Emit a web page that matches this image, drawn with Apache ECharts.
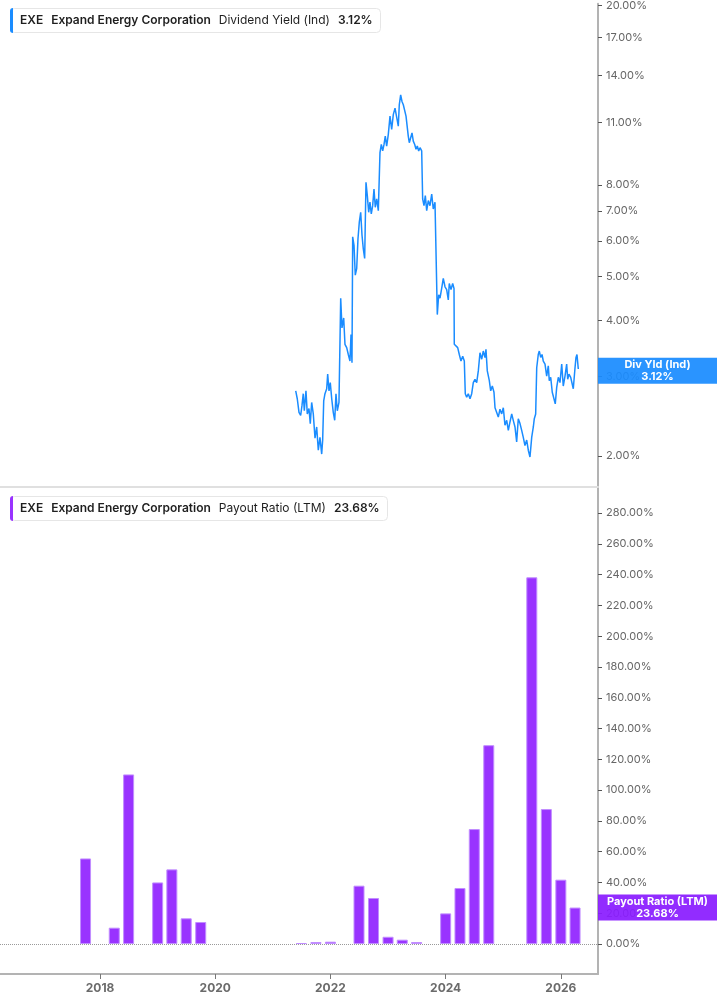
<!DOCTYPE html>
<html>
<head>
<meta charset="utf-8">
<title>EXE - Dividend Yield / Payout Ratio</title>
<script src="https://cdn.jsdelivr.net/npm/echarts@6.0.0/dist/echarts.min.js"></script>
<style>
  html, body { margin: 0; padding: 0; background: #fff; }
  #main { width: 717px; height: 1005px; }
</style>
</head>
<body>
<div id="main"></div>
<script>
// Dividend Yield (Ind), in %. Dates are decimal years.
const yieldYears = [
  2021.397, 2021.424, 2021.454, 2021.483, 2021.506, 2021.528, 2021.546, 2021.575, 2021.598, 2021.627,
  2021.650, 2021.674, 2021.702, 2021.732, 2021.761, 2021.789, 2021.818, 2021.848, 2021.865, 2021.883,
  2021.905, 2021.935, 2021.952, 2021.975, 2021.997, 2022.022, 2022.049, 2022.074, 2022.096, 2022.119,
  2022.148, 2022.166, 2022.178, 2022.200, 2022.230, 2022.252, 2022.282, 2022.310, 2022.339, 2022.357,
  2022.374, 2022.386, 2022.409, 2022.431, 2022.456, 2022.478, 2022.501, 2022.525, 2022.548, 2022.570,
  2022.594, 2022.617, 2022.640, 2022.664, 2022.686, 2022.709, 2022.733, 2022.756, 2022.778, 2022.803,
  2022.831, 2022.848, 2022.860, 2022.883, 2022.907, 2022.930, 2022.952, 2022.976, 2023.004, 2023.034,
  2023.063, 2023.091, 2023.121, 2023.150, 2023.178, 2023.195, 2023.219, 2023.242, 2023.265, 2023.289,
  2023.312, 2023.334, 2023.351, 2023.369, 2023.393, 2023.416, 2023.438, 2023.463, 2023.485, 2023.508,
  2023.532, 2023.555, 2023.584, 2023.601, 2023.624, 2023.647, 2023.671, 2023.699, 2023.728, 2023.758,
  2023.785, 2023.815, 2023.844, 2023.855, 2023.879, 2023.902, 2023.931, 2023.959, 2023.989, 2024.018,
  2024.046, 2024.063, 2024.093, 2024.122, 2024.145, 2024.150, 2024.180, 2024.209, 2024.237, 2024.266,
  2024.296, 2024.324, 2024.341, 2024.365, 2024.393, 2024.423, 2024.452, 2024.480, 2024.509, 2024.539,
  2024.567, 2024.596, 2024.626, 2024.653, 2024.683, 2024.700, 2024.723, 2024.758, 2024.782, 2024.810,
  2024.839, 2024.857, 2024.886, 2024.914, 2024.943, 2024.973, 2025.001, 2025.030, 2025.060, 2025.088,
  2025.117, 2025.147, 2025.174, 2025.204, 2025.233, 2025.261, 2025.291, 2025.320, 2025.348, 2025.377,
  2025.407, 2025.435, 2025.464, 2025.494, 2025.522, 2025.539, 2025.563, 2025.581, 2025.608, 2025.626,
  2025.650, 2025.673, 2025.695, 2025.725, 2025.754, 2025.782, 2025.799, 2025.824, 2025.851, 2025.881,
  2025.903, 2025.928, 2025.956, 2025.985, 2026.015, 2026.042, 2026.072, 2026.101, 2026.119, 2026.141,
  2026.171, 2026.199, 2026.216, 2026.246, 2026.263, 2026.280, 2026.303
];
const yieldValues = [
  2.79, 2.68, 2.50, 2.46, 2.59, 2.75, 2.52, 2.79, 2.48, 2.55,
  2.36, 2.63, 2.48, 2.19, 2.32, 2.06, 2.20, 2.02, 2.17, 2.65,
  2.75, 2.82, 3.04, 2.79, 2.91, 2.68, 2.50, 2.40, 2.75, 2.52,
  2.63, 2.65, 4.48, 3.85, 4.05, 3.54, 3.48, 3.36, 3.25, 3.72,
  3.22, 6.13, 5.87, 5.04, 5.22, 6.07, 6.61, 6.95, 6.18, 5.77,
  5.49, 8.10, 7.57, 6.95, 7.32, 6.89, 7.19, 7.83, 7.13, 7.44,
  7.01, 7.07, 9.43, 9.83, 9.51, 9.83, 10.26, 9.75, 10.34, 11.36,
  10.61, 11.45, 11.84, 11.74, 10.79, 12.04, 12.67, 12.25, 12.04, 12.15,
  11.36, 11.45, 10.26, 9.92, 10.17, 10.43, 10.00, 9.83, 9.59, 9.75,
  9.51, 9.67, 9.51, 7.44, 7.19, 7.57, 7.01, 7.38, 7.19, 7.63,
  7.07, 7.32, 7.25, 4.12, 4.56, 4.48, 4.71, 4.96, 4.75, 4.68,
  4.44, 4.83, 4.68, 4.83, 4.71, 3.54, 3.57, 3.48, 3.36, 3.25,
  3.33, 3.25, 2.75, 2.70, 2.75, 2.68, 2.75, 2.91, 2.96, 2.91,
  3.09, 3.39, 3.28, 3.42, 3.31, 3.45, 3.09, 2.94, 2.79, 2.86,
  2.77, 2.56, 2.54, 2.44, 2.54, 2.48, 2.56, 2.34, 2.40, 2.28,
  2.38, 2.48, 2.40, 2.32, 2.15, 2.42, 2.36, 2.28, 2.20, 2.11,
  2.17, 2.06, 1.99, 2.20, 2.32, 2.42, 2.48, 3.14, 3.36, 3.42,
  3.31, 3.36, 3.25, 3.20, 3.01, 3.17, 2.94, 2.99, 2.77, 2.75,
  2.61, 2.84, 2.99, 2.91, 3.20, 2.86, 3.01, 3.20, 2.96, 3.04,
  2.99, 3.01, 2.82, 3.14, 3.31, 3.36, 3.12
];

// Payout Ratio (LTM), in %, one bar per quarter end
const payoutDates = [
  '2017-09-30', '2018-03-31', '2018-06-30', '2018-12-31', '2019-03-31', '2019-06-30', '2019-09-30',
  '2021-06-30', '2021-09-30', '2021-12-31', '2022-06-30', '2022-09-30', '2022-12-31', '2023-03-31',
  '2023-06-30', '2023-12-31', '2024-03-31', '2024-06-30', '2024-09-30', '2025-06-30', '2025-09-30',
  '2025-12-31', '2026-03-31'
];
const payoutValues = [
  55.6, 10.6, 110.2, 40.0, 48.5, 16.7, 14.3,
  0.6, 1.3, 1.5, 37.9, 29.9, 4.7, 2.8,
  1.3, 19.9, 36.4, 74.7, 129.2, 238.3, 87.7,
  41.8, 23.68
];

const yieldTicks = [2, 3, 4, 5, 6, 7, 8, 11, 14, 17, 20];
const payoutTicks = [0, 20, 40, 60, 80, 100, 120, 140, 160, 180, 200, 220, 240, 260, 280];
const yearTicks = [2018, 2020, 2022, 2024, 2026];

const FONT = 'Inter, "Noto Sans", sans-serif';
const BLUE = '#1a8cff';
const PURPLE = '#9933ff';

// '2019-06-30' -> 2019.49...
function dateToYear(s) {
  const [y, m, d] = s.split('-').map(Number);
  const start = Date.UTC(y, 0, 1);
  const end = Date.UTC(y + 1, 0, 1);
  return y + (Date.UTC(y, m - 1, d) + 864e5 - start) / (end - start);
}

const lastYield = yieldValues[yieldValues.length - 1];
const lastPayout = payoutValues[payoutValues.length - 1];

// the yield pane is log scaled: plot log10 on a value axis
const yieldData = yieldYears.map((y, i) => [y, Math.log10(yieldValues[i])]);
const payoutData = payoutDates.map((d, i) => [dateToYear(d), payoutValues[i]]);

const chart = echarts.init(document.getElementById('main'), null, { renderer: 'canvas' });

function legendTitle(top, color, label, value) {
  const base = { fontFamily: FONT, fontSize: 12, color: '#1f1f1f', lineHeight: 25 };
  return {
    left: 10,
    top: top,
    text: '{bar| }{b1|EXE}{b|Expand Energy Corporation}{n|' + label + '}{b|' + value + '}',
    backgroundColor: '#fff',
    borderColor: '#e6e6e6',
    borderWidth: 1,
    borderRadius: 4,
    padding: [0, 8, 0, 0],
    textStyle: {
      rich: {
        bar: { width: 3, height: 25, lineHeight: 25, backgroundColor: color, borderRadius: [4, 0, 0, 4] },
        b1: Object.assign({}, base, { fontWeight: 600, padding: [0, 0, 0, 7] }),
        b: Object.assign({}, base, { fontWeight: 600, padding: [0, 0, 0, 8] }),
        n: Object.assign({}, base, { fontWeight: 'normal', padding: [0, 0, 0, 8] })
      }
    }
  };
}

function sideLabel(bg, line1, line2) {
  return {
    show: true,
    position: 'end',
    distance: 0,
    formatter: '{a|' + line1 + '}\n{a|' + line2 + '}',
    backgroundColor: bg,
    padding: [1, 0, 1, 0],
    rich: {
      a: { width: 119, align: 'center', fontFamily: FONT, fontSize: 11, fontWeight: 'bold', color: '#fff', lineHeight: 12 }
    }
  };
}

const yAxisCommon = {
  position: 'right',
  axisLine: { show: true, lineStyle: { color: '#b3b3b3', width: 2 } },
  axisTick: { show: true, length: 4, lineStyle: { color: '#555', width: 1 } },
  splitLine: { show: false },
  axisLabel: { color: '#666', fontFamily: FONT, fontSize: 11, margin: 8 }
};

const xMin = 2016.263;
const xMax = 2026.645;

const option = {
  animation: false,
  backgroundColor: '#fff',
  title: [
    legendTitle(8, BLUE, 'Dividend Yield (Ind)', lastYield.toFixed(2) + '%'),
    legendTitle(496, PURPLE, 'Payout Ratio (LTM)', lastPayout.toFixed(2) + '%')
  ],
  grid: [
    { left: 0, right: 119, top: 0, height: 487 },
    { left: 0, right: 119, top: 487, bottom: 31 }
  ],
  xAxis: [
    {
      type: 'value',
      gridIndex: 0,
      min: xMin,
      max: xMax,
      axisLine: { show: true, onZero: false, lineStyle: { color: '#e0e0e0', width: 2 } },
      axisTick: { show: false },
      axisLabel: { show: false },
      splitLine: { show: false }
    },
    {
      type: 'value',
      gridIndex: 1,
      min: xMin,
      max: xMax,
      axisLine: { show: true, onZero: false, lineStyle: { color: '#b3b3b3', width: 2 } },
      axisTick: { show: true, length: 5, customValues: yearTicks, lineStyle: { color: '#777' } },
      axisLabel: {
        customValues: yearTicks,
        formatter: v => String(Math.round(v)),
        color: '#6b6b6b',
        fontFamily: FONT,
        fontSize: 12,
        fontWeight: 'bold',
        margin: 8
      },
      splitLine: { show: false }
    }
  ],
  yAxis: [
    Object.assign({}, yAxisCommon, {
      type: 'value',
      gridIndex: 0,
      min: Math.log10(1.707),
      max: Math.log10(20.17),
      axisTick: Object.assign({}, yAxisCommon.axisTick, { customValues: yieldTicks.map(Math.log10) }),
      axisLabel: Object.assign({}, yAxisCommon.axisLabel, {
        customValues: yieldTicks.map(Math.log10),
        formatter: v => Math.pow(10, v).toFixed(2) + '%'
      })
    }),
    Object.assign({}, yAxisCommon, {
      type: 'value',
      gridIndex: 1,
      min: -19.5,
      max: 297,
      axisTick: Object.assign({}, yAxisCommon.axisTick, { customValues: payoutTicks }),
      axisLabel: Object.assign({}, yAxisCommon.axisLabel, {
        customValues: payoutTicks,
        formatter: v => v.toFixed(2) + '%'
      })
    })
  ],
  series: [
    {
      name: 'Dividend Yield (Ind)',
      type: 'line',
      xAxisIndex: 0,
      yAxisIndex: 0,
      data: yieldData,
      showSymbol: false,
      lineStyle: { color: BLUE, width: 1.5 },
      itemStyle: { color: BLUE },
      markLine: {
        silent: true,
        symbol: ['none', 'none'],
        data: [
          {
            yAxis: Math.log10(lastYield),
            lineStyle: { color: 'rgba(0,0,0,0)' },
            label: sideLabel('rgba(26,140,255,0.93)', 'Div Yld (Ind)', lastYield.toFixed(2) + '%')
          }
        ]
      }
    },
    {
      name: 'Payout Ratio (LTM)',
      type: 'bar',
      xAxisIndex: 1,
      yAxisIndex: 1,
      data: payoutData,
      barWidth: 11,
      itemStyle: { color: PURPLE, borderColor: '#c18dff', borderWidth: 1 },
      markLine: {
        silent: true,
        symbol: ['none', 'none'],
        data: [
          {
            yAxis: 0,
            lineStyle: { color: '#9a9a9a', type: 'dotted', width: 1 },
            label: { show: false }
          },
          {
            yAxis: lastPayout,
            lineStyle: { color: 'rgba(0,0,0,0)' },
            label: sideLabel('rgba(138,28,255,0.93)', 'Payout Ratio (LTM)', lastPayout.toFixed(2) + '%')
          }
        ]
      }
    }
  ]
};

chart.setOption(option);
</script>
</body>
</html>
